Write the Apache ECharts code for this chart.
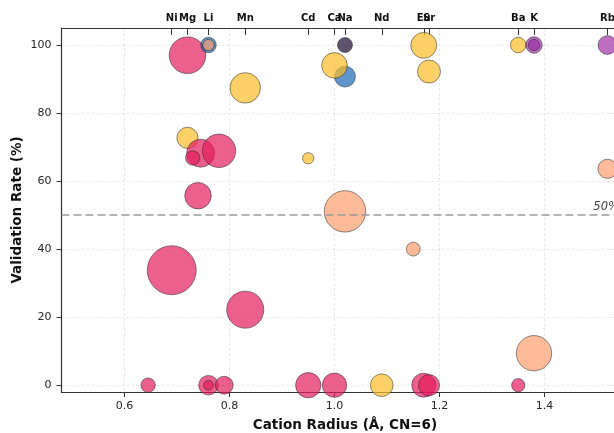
<!DOCTYPE html>
<html>
<head>
<meta charset="utf-8">
<script src="https://cdn.jsdelivr.net/npm/echarts@6/dist/echarts.min.js"></script>
<style>
html,body{margin:0;padding:0;background:#fff;}
#chart{width:614px;height:433px;}
</style>
</head>
<body>
<div id="chart"></div>
<script>
// Top-axis reference ions (Shannon radius, CN=6)
const elements = ['Ni','Mg','Li','Mn','Cd','Ca','Na','Nd','Eu','Sr','Ba','K','Rb'];
const elementRadii = [0.69,0.72,0.76,0.83,0.95,1.00,1.02,1.09,1.17,1.18,1.35,1.38,1.52];

// Bubbles (listed in drawing order)
const pointRadius = [1.02, 0.72,0.83,0.95,1.00,1.17,1.18,1.35,1.09, 0.69,0.72,0.745,0.73,0.78,0.74,0.83,0.645,0.76,0.76,0.79,0.95,1.00,1.17,1.18,1.35, 0.76, 0.76,1.02,1.15,1.52,1.38, 1.02, 1.38,1.38,1.52];
const pointRate   = [90.7, 72.7,87.4,66.7,94.0,99.9,92.2,100,0, 33.8,97.0,68.2,66.8,68.9,55.7,22.2,0,0,0,0,0,0,0,0,0, 100, 100,51.1,40.0,63.6,9.4, 100, 100,100,100];
const pointCount  = [27, 28,58,8,41,42,33,15,32, 150,84,49,13,70,44,86,13,24,6,20,40,37,36,28,11, 15, 8,107,12,23,78, 14, 17,8,22];
const pointGroup  = ['blue', 'yellow','yellow','yellow','yellow','yellow','yellow','yellow','yellow',
  'pink','pink','pink','pink','pink','pink','pink','pink','pink','pink','pink','pink','pink','pink','pink','pink',
  'blue', 'salmon','salmon','salmon','salmon','salmon', 'dark', 'purple','purple','purple'];

const xTickLabels = ['0.6','0.8','1.0','1.2','1.4'];
const yTickLabels = ['0','20','40','60','80','100'];
const thresholdValue = 50;

const groupColors = {
  pink: 'rgba(228,28,92,0.88)',
  yellow: 'rgba(252,190,40,0.88)',
  salmon: 'rgba(252,156,108,0.86)',
  blue: 'rgba(22,100,178,0.86)',
  dark: 'rgba(22,6,42,0.86)',
  purple: 'rgba(155,45,165,0.86)'
};

const FONT = 'DejaVu Sans';
const X_MIN = 0.48, X_MAX = 1.56, Y_MIN = -2, Y_MAX = 105;

const data = pointRadius.map((x, i) => ({
  value: [x, pointRate[i], pointCount[i]],
  itemStyle: { color: groupColors[pointGroup[i]] }
}));

const chart = echarts.init(document.getElementById('chart'), null, {renderer: 'canvas'});
const gridLine = { show: true, lineStyle: { color: '#e2e2e2', width: 0.8, type: [3, 2] } };

chart.setOption({
  animation: false,
  backgroundColor: '#fff',
  textStyle: { fontFamily: FONT },
  grid: { left: 61.5, top: 28, bottom: 41, width: (X_MAX - X_MIN) * 525, containLabel: false, outerBoundsMode: 'none' },
  xAxis: [
    {
      type: 'value', min: X_MIN, max: X_MAX, position: 'bottom',
      name: 'Cation Radius (Å, CN=6)', nameLocation: 'middle', nameGap: 26, nameMoveOverlap: false,
      nameTextStyle: { fontFamily: FONT, fontSize: 13.5, fontWeight: 'bold', color: '#111' },
      axisLine: { show: true, onZero: false, lineStyle: { color: '#333', width: 1.2 } },
      axisTick: { show: true, length: 5, lineStyle: { color: '#333', width: 1 },
        customValues: xTickLabels.map(Number) },
      axisLabel: { fontFamily: FONT, fontSize: 11, color: '#262626', margin: 9,
        customValues: xTickLabels.map(Number),
        formatter: v => Number(v).toFixed(1) },
      splitLine: gridLine
    },
    {
      type: 'value', min: X_MIN, max: X_MAX, position: 'top',
      axisLine: { show: true, onZero: false, lineStyle: { color: '#333', width: 1.2 } },
      axisTick: { show: true, inside: true, length: 7, lineStyle: { color: '#333', width: 1 },
        customValues: elementRadii },
      axisLabel: { fontFamily: FONT, fontSize: 10, fontWeight: 'bold', color: '#111', margin: 5,
        hideOverlap: false,
        customValues: elementRadii,
        formatter: v => {
          let best = 0, bd = 1e9;
          elementRadii.forEach((r, i) => { const d = Math.abs(r - v); if (d < bd) { bd = d; best = i; } });
          return elements[best];
        } },
      splitLine: { show: false }
    }
  ],
  yAxis: {
    type: 'value', min: Y_MIN, max: Y_MAX,
    name: 'Validation Rate (%)', nameLocation: 'middle', nameGap: 37, nameMoveOverlap: false,
    nameTextStyle: { fontFamily: FONT, fontSize: 13.5, fontWeight: 'bold', color: '#111' },
    axisLine: { show: true, onZero: false, lineStyle: { color: '#333', width: 1.2 } },
    axisTick: { show: true, length: 5, lineStyle: { color: '#333', width: 1 },
      customValues: yTickLabels.map(Number) },
    axisLabel: { fontFamily: FONT, fontSize: 11, color: '#262626', margin: 10,
      customValues: yTickLabels.map(Number) },
    splitLine: gridLine
  },
  series: [
    {
      type: 'line', data: [], z: 1, silent: true,
      markLine: {
        silent: true, symbol: ['none', 'none'],
        lineStyle: { color: '#9a9a9a', width: 1.6, type: [8, 4] },
        label: { show: false },
        data: [{ yAxis: thresholdValue }]
      },
      markPoint: {
        symbol: 'circle', symbolSize: 0,
        label: { show: true, formatter: thresholdValue + '%', position: 'right', distance: 0,
          fontFamily: FONT, fontStyle: 'italic', fontSize: 11.5, color: '#444' },
        data: [{ coord: [1.493, 52.4] }]
      }
    },
    {
      type: 'scatter', z: 3, clip: true,
      data: data,
      symbolSize: v => 4 * Math.sqrt(v[2]),
      itemStyle: { borderColor: 'rgba(45,45,45,0.85)', borderWidth: 0.8 }
    }
  ]
});
</script>
</body>
</html>
